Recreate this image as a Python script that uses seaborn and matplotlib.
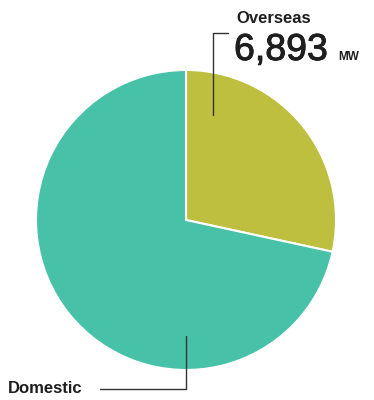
import matplotlib
matplotlib.use("Agg")
import matplotlib.pyplot as plt
import matplotlib.patheffects as pe
import seaborn as sns

categories = ["Overseas", "Domestic"]
values_mw = [6893, 17380]
colors = ["#BEBF3E", "#47C1A7"]

sns.set_theme(style="white")
plt.rcParams["font.family"] = ["Liberation Sans", "DejaVu Sans"]

W, H = 374, 400
fig = plt.figure(figsize=(W / 100, H / 100), dpi=100)
ax = fig.add_axes([0, 0, 1, 1])

cx, cy, r = 186, H - 220, 150
ax.pie(values_mw, colors=colors, startangle=90, counterclock=False,
       center=(cx, cy), radius=r, frame=True,
       wedgeprops=dict(edgecolor="white", linewidth=1.5))
ax.set_xlim(0, W)
ax.set_ylim(0, H)
ax.set_aspect("equal")
ax.axis("off")

def Y(y):
    return H - y

lc = "#333333"
tc = "#1e1e1e"
# Overseas leader
ax.plot([213, 213, 228], [Y(115), Y(33), Y(33)], color=lc, lw=1)
# Domestic leader
ax.plot([186, 186, 100], [Y(336), Y(389), Y(389)], color=lc, lw=1)

ax.text(236, Y(23), categories[0], fontsize=12, fontweight="bold",
        color=tc, ha="left", va="baseline")
ax.text(234, Y(60), f"{values_mw[0]:,}", fontsize=27, color=tc,
        ha="left", va="baseline",
        path_effects=[pe.withStroke(linewidth=0.7, foreground=tc)])
ax.text(338, Y(60), "MW", fontsize=8.5, fontweight="bold", color=tc,
        ha="left", va="baseline")
ax.text(8, Y(393), categories[1], fontsize=12, fontweight="bold",
        color=tc, ha="left", va="baseline")

fig.savefig("out.png", dpi=100)
